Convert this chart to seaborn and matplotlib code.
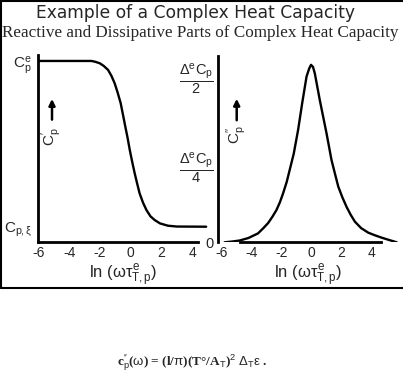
import numpy as np
import pandas as pd
import seaborn as sns
import matplotlib.pyplot as plt
from matplotlib.lines import Line2D
from matplotlib.transforms import ScaledTranslation

# values
# left panel: reactive part C_p' (0 = C_p,xi, 1 = C_p^e)
ln_wt_real = [-6, -4, -2.55, -2.3, -2.01, -1.75, -1.47, -1.25, -1.04, -0.85,
              -0.65, -0.5, -0.35, -0.2, -0.06, 0.1, 0.26, 0.42, 0.58, 0.8,
              1.02, 1.28, 1.56, 1.9, 2.42, 3.0, 4.9]
cp_real = [1, 1, 1.0, 0.995, 0.986, 0.97, 0.946, 0.91, 0.865, 0.81,
           0.745, 0.675, 0.604, 0.535, 0.463, 0.39, 0.322, 0.26, 0.201, 0.145,
           0.101, 0.063, 0.040, 0.02, 0.006, 0.001, 0]

# right panel: dissipative part C_p'' (in units of Delta^e C_p)
ln_wt_imag = [-5.78, -5.3, -4.78, -4.2, -3.56, -3.2, -2.89, -2.6, -2.33, -2.1,
              -1.89, -1.65, -1.45, -1.18, -0.89, -0.62, -0.33, -0.15, -0.03,
              0.1, 0.22, 0.55, 1.0, 1.33, 1.55, 1.78, 2.05, 2.33, 2.6, 2.89,
              3.3, 3.78, 4.2, 4.67, 5.2, 5.67]
cp_imag = [0, 0.002, 0.005, 0.012, 0.025, 0.04, 0.054, 0.072, 0.091, 0.113,
           0.138, 0.17, 0.204, 0.25, 0.317, 0.392, 0.467, 0.49, 0.5,
           0.494, 0.476, 0.401, 0.307, 0.232, 0.195, 0.157, 0.127, 0.100, 0.078, 0.058,
           0.04, 0.027, 0.02, 0.013, 0.006, 0]

x_ticks = [-6, -4, -2, 0, 2, 4]
left_yticks = [0, 1]
left_ylabels = [r"$C_{p,\xi}$", r"$C_p^e$"]
right_yticks = [0, 0.25, 0.5]
right_ylabels = ["0", r"$\dfrac{\Delta^e C_p}{4}$", r"$\dfrac{\Delta^e C_p}{2}$"]

real_df = pd.DataFrame({"ln_wt": ln_wt_real, "cp": cp_real})
imag_df = pd.DataFrame({"ln_wt": ln_wt_imag, "cp": cp_imag})

sns.set_style("white")
plt.rcParams['font.family'] = ['Liberation Sans', 'DejaVu Sans']
plt.rcParams['mathtext.fontset'] = 'custom'
plt.rcParams['mathtext.rm'] = 'Liberation Sans'
plt.rcParams['mathtext.it'] = 'Liberation Sans'
plt.rcParams['mathtext.bf'] = 'Liberation Sans:bold'
plt.rcParams['axes.unicode_minus'] = False

fig = plt.figure(figsize=(4.03, 3.80), dpi=100)
ax1 = fig.add_axes([0.095, 0.3624, 0.4204, 0.4929])
ax2 = fig.add_axes([0.5417, 0.3624, 0.4476, 0.4903])

sns.lineplot(data=real_df, x="ln_wt", y="cp", ax=ax1, color="black", lw=1.7,
             solid_joinstyle="round")
sns.lineplot(data=imag_df, x="ln_wt", y="cp", ax=ax2, color="black", lw=1.7,
             solid_joinstyle="round")

ax1.set_xlim(-6, 5)
ax1.set_ylim(-0.094, 1.036)
ax2.set_xlim(-6.2, 5.8)
ax2.set_ylim(0, 0.525)

for ax in (ax1, ax2):
    ax.set_facecolor("white")
    for s in ("top", "right"):
        ax.spines[s].set_visible(False)
    for s in ("left", "bottom"):
        ax.spines[s].set_linewidth(2)
        ax.spines[s].set_color("black")
    ax.set_xticks(x_ticks)
    ax.set_xticklabels([str(t) for t in x_ticks])
    ax.tick_params(axis="x", direction="in", length=3, width=1, labelsize=10, pad=3)
    ax.tick_params(axis="y", direction="out", length=3, width=1, labelsize=11, pad=1)
    ax.set_xlabel(r"ln ($\omega\tau^e_{T,p}$)", fontsize=12, labelpad=1.5)
    ax.set_ylabel("")

ax1.spines["bottom"].set_bounds(-6, 4.4)
ax2.spines["bottom"].set_bounds(-4.75, 4.6)
ax1.set_yticks(left_yticks)
ax1.set_yticklabels(left_ylabels)
ax2.set_yticks(right_yticks)
ax2.set_yticklabels(right_ylabels, fontsize=10.5)
ax2.tick_params(axis="y", direction="inout", length=5)

# fraction labels sit with the numerator at the tick
shift = ScaledTranslation(0, -7 / 72, fig.dpi_scale_trans)
for lab in ax2.get_yticklabels()[1:]:
    lab.set_transform(lab.get_transform() + shift)

# axis labels drawn inside the panels with an arrow above
ax1.text(0.081, 0.562, r"$C_p'$", rotation=90, ha="center", va="center",
         fontsize=11, transform=ax1.transAxes)
ax1.annotate("", xy=(0.081, 0.78), xytext=(0.081, 0.64), xycoords="axes fraction",
             arrowprops=dict(arrowstyle="-|>", lw=1.8, color="black", mutation_scale=9))
ax2.text(0.102, 0.576, r"$C_p''$", rotation=90, ha="center", va="center",
         fontsize=11, transform=ax2.transAxes)
ax2.annotate("", xy=(0.102, 0.785), xytext=(0.102, 0.64), xycoords="axes fraction",
             arrowprops=dict(arrowstyle="-|>", lw=1.8, color="black", mutation_scale=9))

# frame around the chart part
box_bottom = 1 - 288 / 380
for xs, ys in (([0.002, 0.002], [box_bottom, 1]),
               ([0.002, 1], [0.998, 0.998]),
               ([0.002, 1], [box_bottom, box_bottom])):
    fig.add_artist(Line2D(xs, ys, color="black", lw=1.5, transform=fig.transFigure))

fig.text(0.486, 0.966, "Example of a Complex Heat Capacity", ha="center", va="center",
         fontsize=12.3, family="DejaVu Sans", weight="medium")
fig.text(0.496, 0.912, "Reactive and Dissipative Parts of Complex Heat Capacity",
         ha="center", va="center", fontsize=12.3, family="Liberation Serif")
fig.text(0.477, 0.045,
         r"c$_p''$($\omega$) = (l/$\pi$)(T°/A$_T$)$^2$ $\Delta_T\varepsilon$ .",
         ha="center", va="center", fontsize=9.5, family="Liberation Serif",
         weight="bold")

fig.savefig("out.png", dpi=100, facecolor="white")
